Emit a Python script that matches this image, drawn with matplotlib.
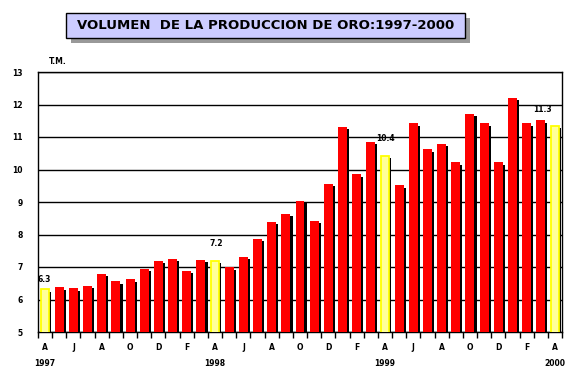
import numpy as np
import matplotlib
matplotlib.use("Agg")
import matplotlib.pyplot as plt
import matplotlib.patheffects as pe
from matplotlib.patches import Rectangle

# ---- data ----
months = ["A", "M", "J", "J", "A", "S", "O", "N", "D", "E", "F", "M",
          "A", "M", "J", "J", "A", "S", "O", "N", "D", "E", "F", "M",
          "A", "M", "J", "J", "A", "S", "O", "N", "D", "E", "F", "M", "A"]
production = [6.31, 6.37, 6.34, 6.43, 6.80, 6.56, 6.62, 6.93, 7.18, 7.24, 6.87, 7.21,
              7.20, 6.99, 7.30, 7.86, 8.38, 8.63, 9.03, 8.41, 9.55, 11.30, 9.85, 10.86,
              10.43, 9.51, 11.42, 10.62, 10.80, 10.22, 11.72, 11.42, 10.22, 12.20, 11.42, 11.51,
              11.33]
year_labels = ["1997", "1998", "1999", "2000"]
year_positions = [0, 12, 24, 36]
highlighted = [0, 12, 24, 36]
label_offsets = [(-1, 4), (1, 9), (0, 9), (-9, 9)]  # points
title = "VOLUMEN  DE LA PRODUCCION DE ORO:1997-2000"
unit_label = "T.M."

plt.rcParams['font.family'] = ['DejaVu Sans']

fig = plt.figure(figsize=(5.69, 3.75), dpi=100)
fig.patch.set_facecolor("white")
ax = fig.add_axes([38/569, 1 - 332/375, (562-38)/569, (332-72)/375])

x = np.arange(len(production))
shadow = [pe.SimplePatchShadow(offset=(1.6, -1.6), shadow_rgbFace="black", alpha=1.0),
          pe.Normal()]

red_idx = [i for i in x if i not in highlighted]
red_bars = ax.bar([x[i] for i in red_idx], [production[i] for i in red_idx],
                  width=0.63, color="#FF0000", linewidth=0, zorder=3)
yel_bars = ax.bar([x[i] for i in highlighted], [production[i] for i in highlighted],
                  width=0.57, color="#FFFF99", edgecolor="#FFFF00",
                  linewidth=1.3, zorder=3)
for b in list(red_bars) + list(yel_bars):
    b.set_path_effects(shadow)

ax.set_xlim(-0.5, len(production) - 0.5)
ax.set_ylim(5, 13)
ax.set_yticks(np.arange(5, 14, 1))
ax.set_yticklabels([str(v) for v in range(5, 14)])
ax.yaxis.grid(True, color="black", linewidth=1.0)
ax.set_axisbelow(True)

ax.set_xticks(x[::2])
ax.set_xticklabels(months[::2])
ax.set_xticks(np.arange(-0.5, len(production), 1), minor=True)
ax.tick_params(axis="x", which="major", length=0, pad=8, labelsize=5.5)
ax.tick_params(axis="x", which="minor", length=4, width=1, direction="out", color="black")
ax.tick_params(axis="y", which="major", length=0, pad=11, labelsize=5.5)
for lab in ax.get_xticklabels() + ax.get_yticklabels():
    lab.set_fontweight("bold")

for s in ax.spines.values():
    s.set_color("black")
    s.set_linewidth(1.0)

for pos, yl in zip(year_positions, year_labels):
    ax.annotate(yl, xy=(pos, 0), xycoords=("data", "axes fraction"),
                xytext=(0, -23), textcoords="offset points",
                ha="center", va="center", fontsize=5.5, fontweight="bold")

for i, (dx, dy) in zip(highlighted, label_offsets):
    ax.annotate(f"{production[i]:.1f}", xy=(i, production[i]), xytext=(dx, dy),
                textcoords="offset points", ha="center", va="bottom",
                fontsize=5.5, fontweight="bold")

ax.annotate(unit_label, xy=(0, 1), xycoords="axes fraction", xytext=(8, 4),
            textcoords="offset points", ha="left", va="bottom",
            fontsize=5.5, fontweight="bold")

# title box with drop shadow
bx0, bx1, by0, by1 = 66/569, 465/569, 1 - 38/375, 1 - 13/375
fig.patches.append(Rectangle((bx0 + 5/569, by0 - 5/375), bx1 - bx0, by1 - by0,
                             transform=fig.transFigure, facecolor="#999999",
                             edgecolor="none", zorder=1))
fig.patches.append(Rectangle((bx0, by0), bx1 - bx0, by1 - by0,
                             transform=fig.transFigure, facecolor="#CCCCFF",
                             edgecolor="black", linewidth=1.0, zorder=2))
fig.text((bx0 + bx1) / 2, (by0 + by1) / 2, title, ha="center", va="center",
         fontsize=9.5, fontweight="bold", zorder=3)

fig.savefig("out.png", dpi=100, facecolor="white")
